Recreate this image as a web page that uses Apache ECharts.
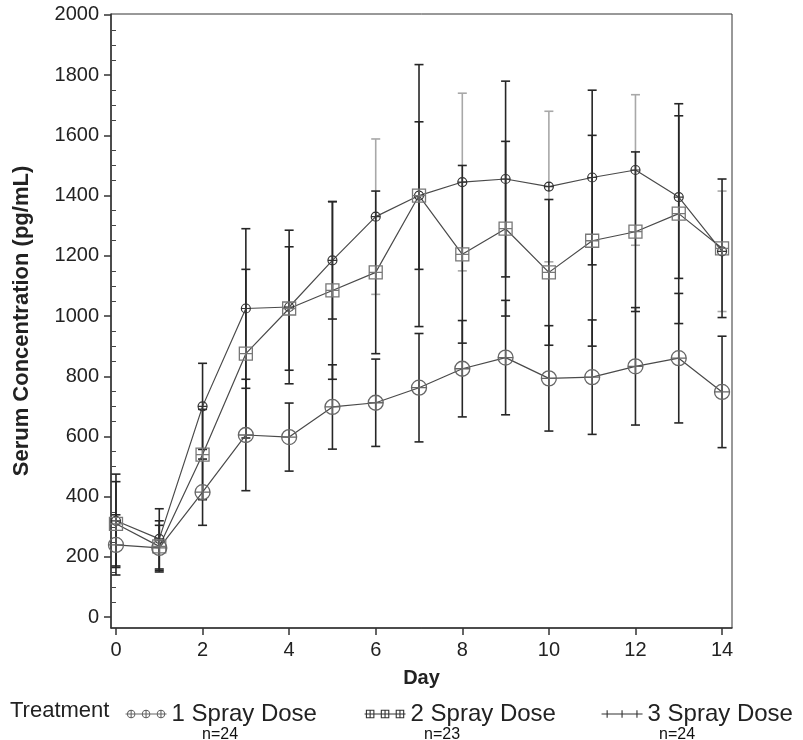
<!DOCTYPE html>
<html><head><meta charset="utf-8">
<script src="https://cdn.jsdelivr.net/npm/echarts@6/dist/echarts.min.js"></script>
<style>html,body{margin:0;padding:0;background:#fff}#c{width:803px;height:740px}</style>
</head><body><div id="c"></div>
<script>
// ---- data ----
const days = [0,1,2,3,4,5,6,7,8,9,10,11,12,13,14];
const xTicks = [0,2,4,6,8,10,12,14];
const yTicks = [0,200,400,600,800,1000,1200,1400,1600,1800,2000];
const seriesNames = ['1 Spray Dose','2 Spray Dose','3 Spray Dose'];
const nLabels = ['n=24','n=23','n=24'];

const mean1 = [240,230,415,605,598,698,712,762,825,862,793,797,833,860,748];
const sd1   = [100,75,110,185,113,140,145,180,160,190,175,190,195,215,185];
const mean2 = [310,235,540,875,1025,1085,1145,1400,1205,1290,1145,1250,1280,1340,1225];
const sd2   = [140,85,150,280,205,295,270,435,295,290,242,350,265,365,230];
const mean3 = [320,260,700,1025,1030,1185,1330,1400,1445,1455,1430,1460,1485,1395,1215];
const sd3   = [155,100,143,265,255,195,258,245,295,325,250,290,250,270,200];

// ---- build ----
const FONT = '"Liberation Sans", Arial, Helvetica, sans-serif';
const yMinor = [];
for (let v = 0; v <= 2000; v += 50) if (v % 200 !== 0) yMinor.push(v);

function pts(m){ return days.map((d,i)=>[d, m[i]]); }
function bars(m,s){ return days.map((d,i)=>[d, m[i]-s[i], m[i]+s[i]]); }

function errRender(baseColor, fadeEven){
  return function(params, api){
    const x = api.value(0), lo = api.value(1), hi = api.value(2);
    const p1 = api.coord([x, hi]), p2 = api.coord([x, lo]);
    const c = (fadeEven && x % 2 === 0 && x >= 6) ? '#a8a8a8' : baseColor;
    const w = 4.5;
    const st = {stroke: c, lineWidth: 1.6};
    return {type:'group', children:[
      {type:'line', shape:{x1:p1[0], y1:p1[1], x2:p2[0], y2:p2[1]}, style: st},
      {type:'line', shape:{x1:p1[0]-w, y1:p1[1], x2:p1[0]+w, y2:p1[1]}, style: st},
      {type:'line', shape:{x1:p2[0]-w, y1:p2[1], x2:p2[0]+w, y2:p2[1]}, style: st}
    ]};
  };
}

const circPlus = 'path://M0,10 A10,10 0 1,1 20,10 A10,10 0 1,1 0,10 Z M0,10 L20,10 M10,0 L10,20';
const sqPlus = 'path://M0,0 L20,0 L20,20 L0,20 Z M0,10 L20,10 M10,0 L10,20';

const icon1 = 'path://M0,6 L44,6 M2,6 A4,4 0 1,1 10,6 A4,4 0 1,1 2,6 M18,6 A4,4 0 1,1 26,6 A4,4 0 1,1 18,6 M34,6 A4,4 0 1,1 42,6 A4,4 0 1,1 34,6 M6,2 L6,10 M22,2 L22,10 M38,2 L38,10';
const icon2 = 'path://M0,6 L44,6 M2,2 L10,2 L10,10 L2,10 Z M18,2 L26,2 L26,10 L18,10 Z M34,2 L42,2 L42,10 L34,10 Z M6,2 L6,10 M22,2 L22,10 M38,2 L38,10';
const icon3 = 'path://M0,6 L44,6 M6,2 L6,10 M22,2 L22,10 M38,2 L38,10 M3,6 L9,6 M19,6 L25,6 M35,6 L41,6';
const icons = [icon1, icon2, icon3];
const iconColors = ['#666', '#333', '#333'];
const legendLefts = [120, 359, 596];
const nLefts = [202, 424, 659];

const lineStyle = {color:'#4a4a4a', width:1.2};

function mkLegend(i){
  return {
    left: legendLefts[i], top: 697, itemWidth: 41, itemHeight: 11,
    textStyle: {fontSize: 24, color: '#222', fontFamily: FONT},
    data: [{name: seriesNames[i], icon: icons[i], itemStyle: {color: 'transparent', borderColor: iconColors[i], borderWidth: 1.1}}]
  };
}

const option = {
  animation: false,
  backgroundColor: '#fff',
  textStyle: {fontFamily: FONT},
  grid: {left:111, right:71, top:14, bottom:112, show:true, borderColor:'#333', borderWidth:1, backgroundColor:'transparent'},
  xAxis: {
    type:'value', min:-0.115, max:14.23,
    name:'Day', nameLocation:'middle', nameGap:40,
    nameTextStyle:{fontSize:20, fontWeight:'bold', color:'#222', fontFamily:FONT},
    axisLine:{show:true, onZero:false, lineStyle:{color:'#333', width:1.5}},
    axisTick:{show:true, inside:false, length:7, customValues:xTicks, lineStyle:{color:'#333', width:1.5}},
    axisLabel:{show:true, customValues:xTicks, margin:12, fontSize:20, color:'#222', fontFamily:FONT, formatter: v => String(v)},
    splitLine:{show:false}
  },
  yAxis: [{
    type:'value', min:-36, max:2003,
    name:'Serum Concentration (pg/mL)', nameLocation:'middle', nameGap:78,
    nameTextStyle:{fontSize:22, fontWeight:'bold', color:'#222', fontFamily:FONT},
    axisLine:{show:true, onZero:false, lineStyle:{color:'#333', width:1.5}},
    axisTick:{show:true, inside:false, length:7, customValues:yTicks, lineStyle:{color:'#333', width:1.5}},
    axisLabel:{show:true, customValues:yTicks, margin:12, fontSize:20, color:'#222', fontFamily:FONT, formatter: v => String(v)},
    splitLine:{show:false}
  },{
    type:'value', min:-36, max:2003, position:'left',
    axisLine:{show:false},
    axisTick:{show:true, inside:false, length:4, customValues:yMinor, lineStyle:{color:'#444', width:1}},
    axisLabel:{show:false},
    splitLine:{show:false}
  }],
  legend: [mkLegend(0), mkLegend(1), mkLegend(2)],
  graphic: [
    {type:'text', left:10, top:700, style:{text:'Treatment', fontSize:22, fill:'#222', fontFamily:FONT}},
    {type:'text', left:nLefts[0], top:727, style:{text:nLabels[0], fontSize:16, fill:'#111', fontFamily:FONT}},
    {type:'text', left:nLefts[1], top:727, style:{text:nLabels[1], fontSize:16, fill:'#111', fontFamily:FONT}},
    {type:'text', left:nLefts[2], top:727, style:{text:nLabels[2], fontSize:16, fill:'#111', fontFamily:FONT}}
  ],
  series: [
    {type:'custom', id:'eb3', renderItem: errRender('#262626', true), data: bars(mean3, sd3), encode:{x:0, y:[1,2]}, z:2, silent:true},
    {type:'custom', id:'eb2', renderItem: errRender('#262626', false), data: bars(mean2, sd2), encode:{x:0, y:[1,2]}, z:2, silent:true},
    {type:'custom', id:'eb1', renderItem: errRender('#262626', false), data: bars(mean1, sd1), encode:{x:0, y:[1,2]}, z:2, silent:true},
    {type:'line', name:seriesNames[2], data: pts(mean3), symbol:circPlus, symbolSize:9, lineStyle: lineStyle,
      itemStyle:{color:'transparent', borderColor:'#333', borderWidth:1.2}, z:4},
    {type:'line', name:seriesNames[1], data: pts(mean2), symbol:sqPlus, symbolSize:13, lineStyle: lineStyle,
      itemStyle:{color:'transparent', borderColor:'#777', borderWidth:1.3}, z:4},
    {type:'line', name:seriesNames[0], data: pts(mean1), symbol:circPlus, symbolSize:15, lineStyle: lineStyle,
      itemStyle:{color:'transparent', borderColor:'#666', borderWidth:1.3}, z:4}
  ]
};
echarts.init(document.getElementById('c'), null, {renderer:'canvas'}).setOption(option);
</script></body></html>
